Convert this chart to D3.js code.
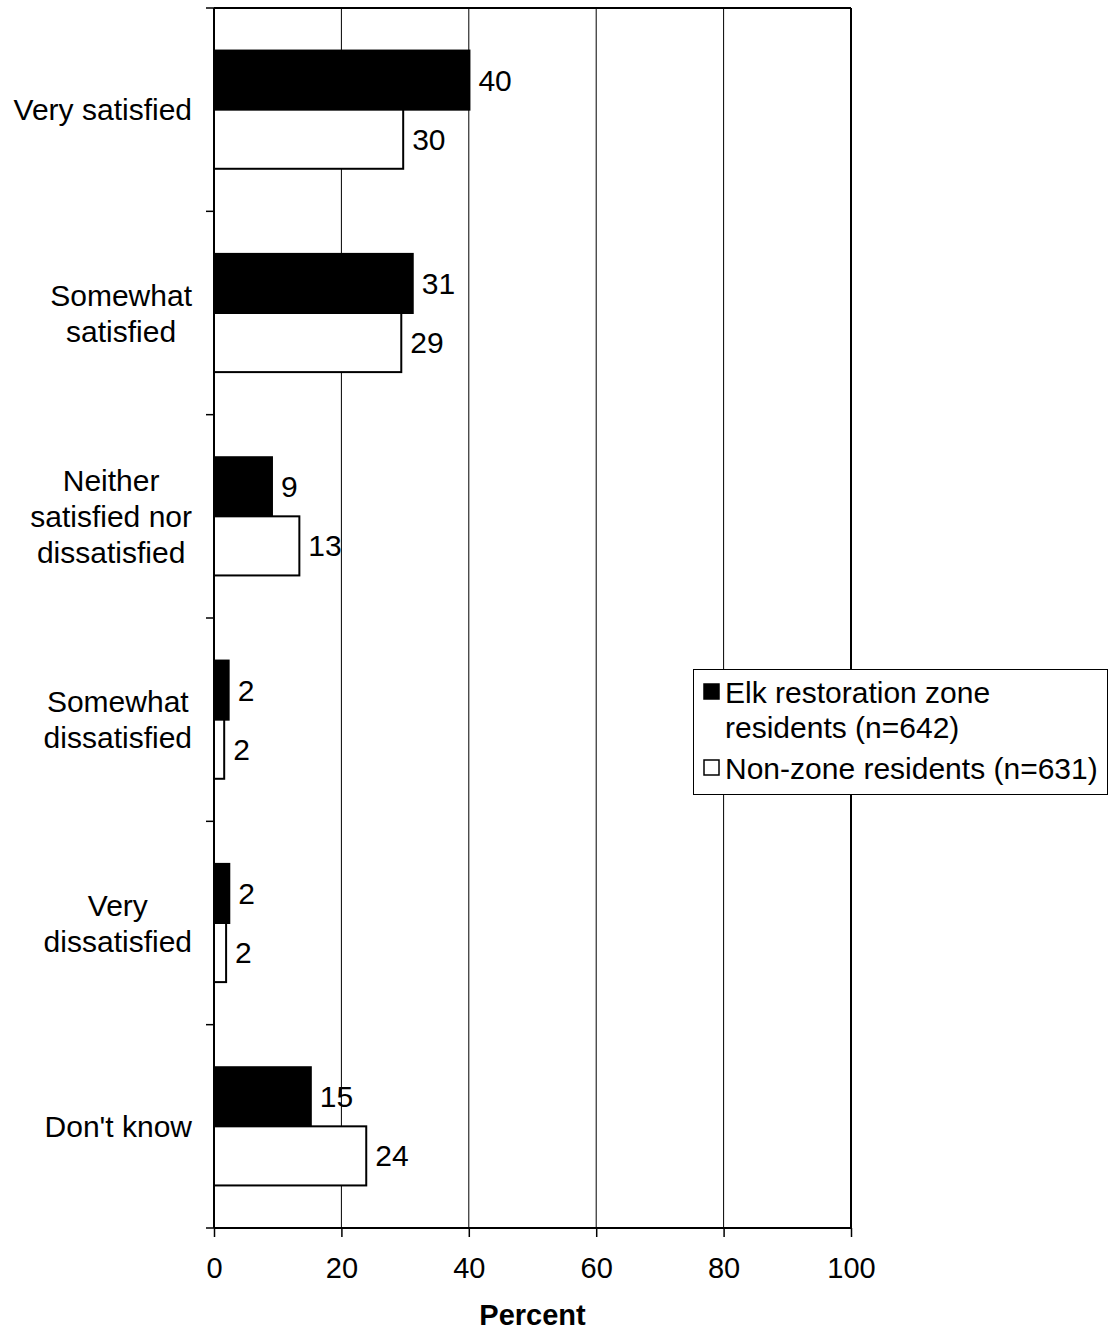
<!DOCTYPE html>
<html>
<head>
<meta charset="utf-8">
<script src="https://cdn.jsdelivr.net/npm/d3@7"></script>
<style>
  html, body { margin: 0; padding: 0; background: #fff; }
  svg { display: block; font-family: "Liberation Sans", Arial, sans-serif; }
</style>
</head>
<body>
<svg id="chart" width="1110" height="1338"></svg>
<script>
// ---- data ----
const categories = [
  ["Very satisfied"],
  ["Somewhat", "satisfied"],
  ["Neither", "satisfied nor", "dissatisfied"],
  ["Somewhat", "dissatisfied"],
  ["Very", "dissatisfied"],
  ["Don't know"]
];
const seriesNames = ["Elk restoration zone residents (n=642)", "Non-zone residents (n=631)"];
const legendLines = [["Elk restoration zone", "residents (n=642)"], ["Non-zone residents (n=631)"]];
const zoneValues = [40.1, 31.2, 9.1, 2.3, 2.4, 15.2];
const nonZoneValues = [29.7, 29.4, 13.4, 1.6, 1.9, 23.9];
const xTicks = [0, 20, 40, 60, 80, 100];
const xTitle = "Percent";

// ---- layout ----
const svg = d3.select("#chart");
const L = 214, R = 851, T = 8, B = 1228;
const fs = 30;
const fsTick = 29;

const x = d3.scaleLinear().domain([0, 100]).range([L, R]);
const catIdx = categories.map((d, i) => i);
const y = d3.scaleBand().domain(catIdx).range([T, B]).padding(0);
const sub = d3.scaleBand().domain([0, 1]).range([0, y.bandwidth()]).paddingInner(0).paddingOuter(0.72);

// gridlines
svg.append("g").selectAll("line").data(xTicks.filter(t => t > 0 && t < 100)).join("line")
  .attr("x1", d => x(d)).attr("x2", d => x(d)).attr("y1", T).attr("y2", B)
  .attr("stroke", "#000").attr("stroke-width", 1);

// frame top & right
svg.append("line").attr("x1", L).attr("x2", R).attr("y1", T).attr("y2", T).attr("stroke", "#000").attr("stroke-width", 2);
svg.append("line").attr("x1", R).attr("x2", R).attr("y1", T).attr("y2", B).attr("stroke", "#000").attr("stroke-width", 2);

// bars
const series = [zoneValues, nonZoneValues];
const fills = ["#000", "#fff"];
series.forEach((vals, s) => {
  const g = svg.append("g");
  g.selectAll("rect").data(vals).join("rect")
    .attr("x", x(0))
    .attr("y", (d, i) => y(i) + sub(s))
    .attr("width", d => x(d) - x(0))
    .attr("height", sub.bandwidth())
    .attr("fill", fills[s])
    .attr("stroke", "#000").attr("stroke-width", 2);
  g.selectAll("text").data(vals).join("text")
    .attr("x", d => x(d) + 9)
    .attr("y", (d, i) => y(i) + sub(s) + sub.bandwidth() / 2)
    .attr("dy", "0.35em")
    .attr("font-size", fs)
    .text(d => Math.round(d));
});

// x axis
const xAxis = d3.axisBottom(x).tickValues(xTicks).tickSize(9).tickPadding(20).tickFormat(d3.format("d"));
const gx = svg.append("g").attr("transform", `translate(0,${B})`).call(xAxis);
gx.select(".domain").attr("stroke-width", 2).attr("d", `M${L},0H${R}`);
gx.selectAll(".tick line").attr("stroke-width", 1.5);
gx.selectAll(".tick text").attr("font-size", fsTick).attr("font-family", "Liberation Sans, Arial, sans-serif").attr("fill", "#000");

// y axis
const yTickPos = d3.range(categories.length + 1).map(i => T + i * y.step());
svg.append("line").attr("x1", L).attr("x2", L).attr("y1", T).attr("y2", B).attr("stroke", "#000").attr("stroke-width", 2);
svg.append("g").selectAll("line").data(yTickPos).join("line")
  .attr("x1", L - 8).attr("x2", L).attr("y1", d => d).attr("y2", d => d)
  .attr("stroke", "#000").attr("stroke-width", 1.5);

// category labels: block right-aligned, lines centered
const lh = 36;
categories.forEach((lines, i) => {
  const cy = y(i) + y.bandwidth() / 2;
  const g = svg.append("g");
  const texts = lines.map((ln, k) => g.append("text")
    .attr("font-size", fs)
    .attr("text-anchor", "middle")
    .attr("y", cy + (k - (lines.length - 1) / 2) * lh)
    .attr("dy", "0.35em")
    .text(ln));
  const maxW = d3.max(texts, t => t.node().getComputedTextLength());
  texts.forEach(t => t.attr("x", 192 - maxW / 2));
});

// x title
svg.append("text").attr("x", (L + R) / 2).attr("y", 1315).attr("dy", "0.35em")
  .attr("text-anchor", "middle").attr("font-size", fsTick).attr("font-weight", "bold").text(xTitle);

// legend
const lg = svg.append("g");
lg.append("rect").attr("x", 693.5).attr("y", 669.5).attr("width", 414).attr("height", 125)
  .attr("fill", "#fff").attr("stroke", "#000").attr("stroke-width", 1);
const legendY = [692, 768];
legendLines.forEach((lines, s) => {
  lg.append("rect").attr("x", 704).attr("y", legendY[s] - 8).attr("width", 15).attr("height", 15)
    .attr("fill", fills[s]).attr("stroke", "#000").attr("stroke-width", 1.5);
  lines.forEach((ln, k) => {
    lg.append("text").attr("x", 725).attr("y", legendY[s] + k * 35).attr("dy", "0.35em")
      .attr("font-size", fs).text(ln);
  });
});
</script>
</body>
</html>
